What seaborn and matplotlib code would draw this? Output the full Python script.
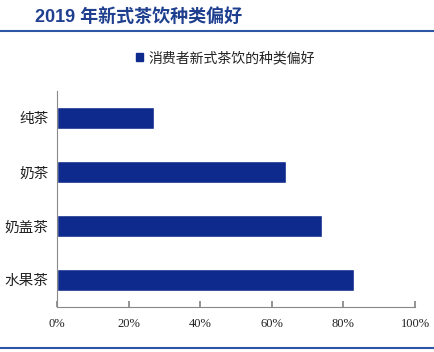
import matplotlib
matplotlib.use("Agg")
import matplotlib.pyplot as plt
import seaborn as sns
import pandas as pd
from matplotlib.lines import Line2D
from matplotlib.patches import Patch
from matplotlib.ticker import PercentFormatter

categories = ["纯茶", "奶茶", "奶盖茶", "水果茶"]
values = [27, 64, 74, 83]
series_name = "消费者新式茶饮的种类偏好"
title = "2019 年新式茶饮种类偏好"
xticks = [0, 20, 40, 60, 80, 100]

sns.set_theme(style="white")
plt.rcParams['font.family'] = ['Liberation Serif', 'Noto Sans CJK SC', 'DejaVu Sans']

df = pd.DataFrame({"cat": categories, "val": values})
bar_color = "#0E2A8C"

fig = plt.figure(figsize=(4.35, 3.52), dpi=100)
ax = fig.add_axes([0.131, 0.128, 0.823, 0.614])
sns.barplot(data=df, x="val", y="cat", orient="h", color=bar_color,
            saturation=1, width=0.41, ax=ax)
ax.set_xlim(0, 100)
ax.set_ylim(3.5, -0.5)
ax.set_xticks(xticks)
ax.xaxis.set_major_formatter(PercentFormatter(decimals=0))
ax.set_xlabel("")
ax.set_ylabel("")
for s in ["top", "right"]:
    ax.spines[s].set_visible(False)
for s in ["left", "bottom"]:
    ax.spines[s].set_color("#888888")
    ax.spines[s].set_linewidth(0.8)
ax.tick_params(axis="x", direction="in", length=4, color="#888888", labelsize=9,
               pad=8, labelcolor="#222222", bottom=True)
ax.tick_params(axis="y", length=0, labelsize=10.5, pad=6, labelcolor="#222222")
for lab in ax.get_yticklabels():
    lab.set_fontfamily(['Noto Sans CJK SC'])

handle = Patch(facecolor=bar_color, edgecolor=bar_color)
leg = fig.legend([handle], [series_name], loc="center left",
                 bbox_to_anchor=(0.285, 0.835), frameon=False,
                 handlelength=0.5, handleheight=0.5, handletextpad=0.4,
                 prop={"family": ["Noto Sans CJK SC"], "size": 10})
for t in leg.get_texts():
    t.set_color("#222222")

fig.text(0.08, 0.952, title, fontsize=13, fontweight="bold", color="#1F3F8F",
         va="center", ha="left", family=["Liberation Sans", "Noto Sans CJK SC"])
fig.add_artist(Line2D([0, 1], [0.912, 0.912], color="#2E56A6", lw=1.5,
                      transform=fig.transFigure))
fig.add_artist(Line2D([0, 1], [0.011, 0.011], color="#2E56A6", lw=1.5,
                      transform=fig.transFigure))

fig.savefig("out.png", dpi=100)
